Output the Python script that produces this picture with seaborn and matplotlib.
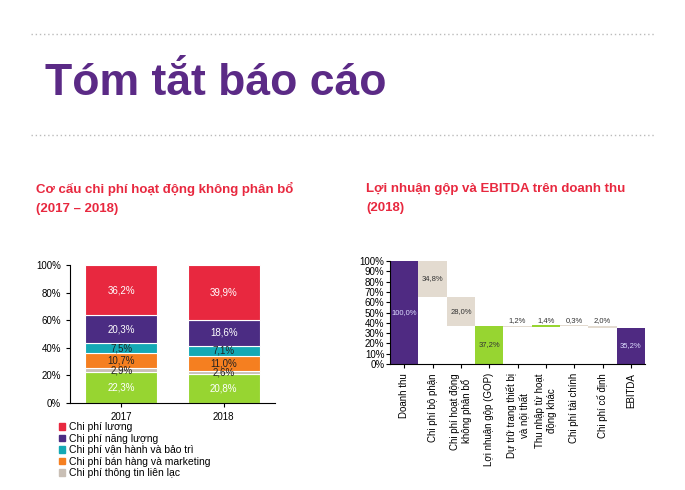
import numpy as np
import pandas as pd
import matplotlib
matplotlib.use("Agg")
import matplotlib.pyplot as plt
import seaborn as sns
from matplotlib.patches import Patch
from matplotlib.ticker import PercentFormatter

plt.rcParams['font.family'] = 'Liberation Sans'

# left chart data (stack order bottom -> top)
years = ['2017', '2018']
seg_names = ['Chi phí khác', 'Chi phí thông tin liên lạc', 'Chi phí bán hàng và marketing',
             'Chi phí vận hành và bảo trì', 'Chi phí năng lượng', 'Chi phí lương']
seg_2017 = [22.3, 2.9, 10.7, 7.5, 20.3, 36.2]
seg_2018 = [20.8, 2.6, 11.0, 7.1, 18.6, 39.9]
seg_colors = ['#97D531', '#C9BFB5', '#F57F20', '#14A9B5', '#4B2C83', '#E8283F']
seg_text = ['white', '#222222', '#222222', '#222222', 'white', 'white']

# right chart data (waterfall)
wf_labels = ['Doanh thu', 'Chi phí bộ phận', 'Chi phí hoạt động\nkhông phân bổ',
             'Lợi nhuận gộp (GOP)', 'Dự trữ trang thiết bị\nvà nội thất',
             'Thu nhập từ hoạt\nđộng khác', 'Chi phí tài chính', 'Chi phí cố định', 'EBITDA']
wf_values = [100.0, -34.8, -28.0, 37.2, -1.2, 1.4, -0.3, -2.0, 35.2]
wf_kind = ['total', 'delta', 'delta', 'sub', 'delta', 'delta', 'delta', 'delta', 'total']

fig = plt.figure(figsize=(6.85, 4.9), dpi=100)
fig.patch.set_facecolor('white')

# header
for y in (0.93, 0.725):
    fig.add_artist(plt.Line2D([0.045, 0.955], [y, y], color='#BBBBBB', lw=1, ls=(0, (1, 2))))
fig.text(0.065, 0.83, 'Tóm tắt báo cáo', fontsize=32, fontweight='bold', color='#5B2A86', va='center')
fig.text(0.052, 0.595, 'Cơ cấu chi phí hoạt động không phân bổ\n(2017 – 2018)',
         fontsize=9.5, fontweight='bold', color='#E8283F', va='center', linespacing=1.7)
fig.text(0.535, 0.595, 'Lợi nhuận gộp và EBITDA trên doanh thu\n(2018)',
         fontsize=9.5, fontweight='bold', color='#E8283F', va='center', linespacing=1.7)

# left stacked bars
ax1 = fig.add_axes([70 / 685, 87 / 490, 205 / 685, 138 / 490])
bottom = np.zeros(2)
for i, name in enumerate(seg_names):
    vals = np.array([seg_2017[i], seg_2018[i]])
    df = pd.DataFrame({'year': years, 'v': vals})
    sns.barplot(data=df, x='year', y='v', color=seg_colors[i], width=0.7,
                bottom=bottom, ax=ax1, saturation=1, edgecolor='white', linewidth=0.8)
    for j in range(2):
        ax1.text(j, bottom[j] + vals[j] / 2, f'{vals[j]:.1f}%'.replace('.', ','),
                 ha='center', va='center', fontsize=7, color=seg_text[i])
    bottom += vals
ax1.set_ylim(0, 100)
ax1.set_yticks(range(0, 101, 20))
ax1.yaxis.set_major_formatter(PercentFormatter(decimals=0))
ax1.set_xlabel('')
ax1.set_ylabel('')
ax1.tick_params(labelsize=7, length=3)
for s in ['top', 'right']:
    ax1.spines[s].set_visible(False)
handles = [Patch(color=seg_colors[k], label=seg_names[k]) for k in [5, 4, 3, 2, 1]]
ax1.legend(handles=handles, loc='upper left', bbox_to_anchor=(-0.1, -0.07), frameon=False,
           fontsize=7.5, handlelength=0.6, handleheight=0.6, labelspacing=0.15, handletextpad=0.4)

# right waterfall
ax2 = fig.add_axes([390 / 685, 126 / 490, 255 / 685, 103 / 490])
bars, bots, cols = [], [], []
level = 0.0
for v, k in zip(wf_values, wf_kind):
    if k in ('total', 'sub'):
        bars.append(v); bots.append(0.0)
        cols.append('#97D531' if k == 'sub' else '#4F2A82')
        level = v
    else:
        new = level + v
        bars.append(abs(v)); bots.append(min(level, new))
        cols.append('#97D531' if v > 0 else '#E3DBD0')
        level = new
x = np.arange(len(wf_values))
wf_df = pd.DataFrame({'x': x, 'h': bars})
sns.barplot(data=wf_df, x='x', y='h', bottom=np.array(bots), color='#E3DBD0',
            width=1.0, ax=ax2, saturation=1, linewidth=0)
for p, c in zip(ax2.patches, cols):
    p.set_facecolor(c)
for i, (b, h, k) in enumerate(zip(bots, bars, wf_kind)):
    txt = f'{abs(wf_values[i]):.1f}'.replace('.', ',') + '%'
    if k == 'total':
        ax2.text(i, b + h / 2, txt, ha='center', va='center', fontsize=5.5, color='#DDDDFF')
    elif h > 5 or k == 'sub':
        ax2.text(i, b + h / 2, txt, ha='center', va='center', fontsize=5.5, color='#333333')
    else:
        ax2.text(i, b + h + 1.5, txt, ha='center', va='bottom', fontsize=5.5, color='#333333')
ax2.set_ylim(0, 100)
ax2.set_xlim(-0.5, len(x) - 0.5)
ax2.set_yticks(range(0, 101, 10))
ax2.yaxis.set_major_formatter(PercentFormatter(decimals=0))
ax2.set_xlabel('')
ax2.set_ylabel('')
ax2.set_xticks(x)
ax2.set_xticklabels(wf_labels, rotation=90, fontsize=7, va='top', ha='center')
ax2.tick_params(axis='y', labelsize=7, length=3, pad=1)
ax2.tick_params(axis='x', length=3)
for s in ['top', 'right']:
    ax2.spines[s].set_visible(False)

fig.savefig('out.png', dpi=100)
